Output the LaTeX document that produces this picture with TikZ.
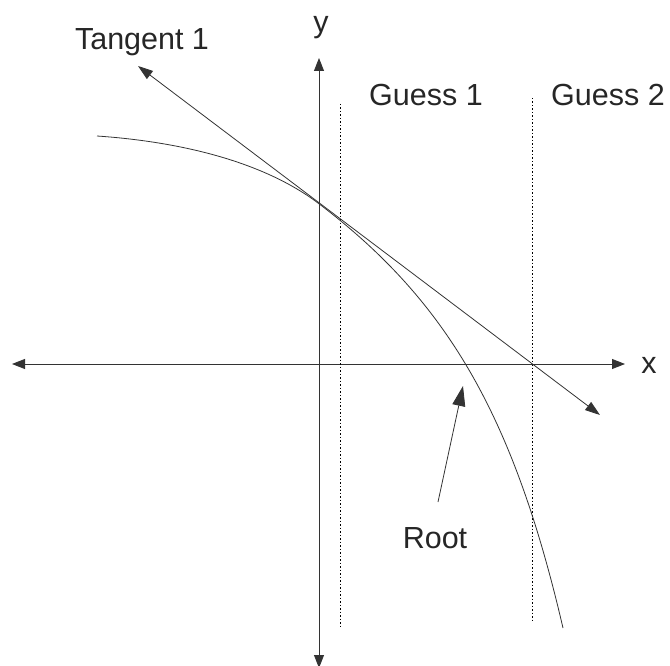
\documentclass[tikz,border=0pt]{standalone}
\usepackage{fontspec}
\setmainfont{Liberation Sans}
\usetikzlibrary{arrows.meta}
\begin{document}
\begin{tikzpicture}[x=1pt,y=-1pt,
  lbl/.style={inner sep=0pt, anchor=base, text=black!85, font=\fontsize{30.5}{36}\selectfont},
  ln/.style={draw=black!80, line width=0.9pt},
  dtip/.style={{Triangle[length=13pt,width=10pt]}-{Triangle[length=13pt,width=10pt]}},
  bigtip/.style={-{Triangle[length=20pt,width=13pt]}},
  guess/.style={draw=black, line width=0.8pt, dash pattern=on 1.5pt off 2pt}]
\useasboundingbox (0,0) rectangle (670,666);
% axis ends
\coordinate (xl) at (12,364);
\coordinate (xr) at (625,364);
\coordinate (yt) at (319,58);
\coordinate (yb) at (319,668);
\draw[ln, dtip] (xl) -- (xr);
\draw[ln, dtip] (yb) -- (yt);
% labels
\node[lbl] (xlab) at (649,373) {x};
\node[lbl] (ylab) at (321,33) {y};
\node[lbl] (tlab) at (142,50) {Tangent 1};
\node[lbl] (g1lab) at (426,106) {Guess 1};
\node[lbl] (g2lab) at (608,106) {Guess 2};
\node[lbl] (rlab) at (435,548) {Root};
% guess lines
\coordinate (g1t) at (340,104);
\coordinate (g1b) at (340,628);
\coordinate (g2t) at (532,98);
\coordinate (g2b) at (532,621);
\draw[guess] (g1t) -- (g1b);
\draw[guess] (g2t) -- (g2b);
% curve
\coordinate (c0) at (97,136);
\coordinate (c1) at (318,203);
\coordinate (c2) at (563,628);
\draw[ln, line width=0.8pt] (c0) .. controls (170,141) and (258,158) .. (c1)
  .. controls (446,300) and (513,413) .. (c2);
% tangent
\coordinate (ts) at (600,415);
\coordinate (te) at (138,66);
\draw[ln, line width=0.8pt, {Triangle[length=15pt,width=10pt]}-{Triangle[length=15pt,width=10pt]}] (te) -- (ts);
% root arrow
\coordinate (rs) at (438,502);
\coordinate (rt) at (463,386);
\draw[ln, line width=0.8pt, bigtip] (rs) -- (rt);
\end{tikzpicture}
\end{document}
